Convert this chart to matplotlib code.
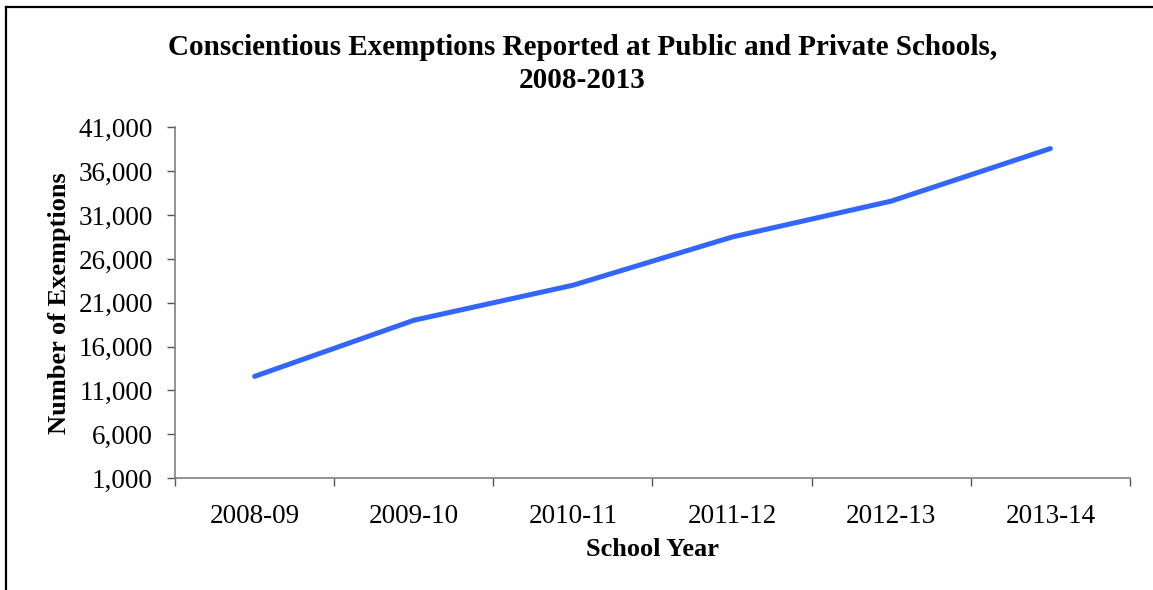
import matplotlib
matplotlib.use("Agg")
import matplotlib.pyplot as plt
from matplotlib.lines import Line2D
from matplotlib.ticker import FuncFormatter

school_years = ["2008-09", "2009-10", "2010-11", "2011-12", "2012-13", "2013-14"]
exemptions = [12600, 19000, 23000, 28500, 32600, 38600]
y_ticks = [1000, 6000, 11000, 16000, 21000, 26000, 31000, 36000, 41000]

plt.rcParams["font.family"] = ["Liberation Serif", "DejaVu Serif"]

fig = plt.figure(figsize=(11.53, 5.90), dpi=100)
ax = fig.add_axes([0.1518, 0.1898, 0.8282, 0.5941])

x = list(range(len(school_years)))
ax.plot(x, exemptions, color="#3366FF", linewidth=3.6, solid_capstyle="round",
        solid_joinstyle="round")

ax.set_xlim(-0.5, len(school_years) - 0.5)
ax.set_ylim(y_ticks[0], y_ticks[-1])
ax.set_yticks(y_ticks)
ax.yaxis.set_major_formatter(FuncFormatter(lambda v, p: f"{int(v):,}"))

# category boundaries carry the x ticks, labels sit between them
ax.set_xticks([i - 0.5 for i in range(len(school_years) + 1)])
ax.set_xticklabels([])
ax.set_xticks(x, minor=True)
ax.set_xticklabels(school_years, minor=True)
ax.tick_params(axis="x", which="minor", length=0, labelsize=19.5, pad=19)
ax.tick_params(axis="x", which="major", length=6, width=1, color="#555555")
ax.tick_params(axis="y", length=6, width=1, color="#555555", labelsize=19.5, pad=10)

for side in ["top", "right"]:
    ax.spines[side].set_visible(False)
for side in ["left", "bottom"]:
    ax.spines[side].set_color("#808080")
    ax.spines[side].set_linewidth(1.2)

ax.set_xlabel("School Year", fontsize=19, fontweight="bold", labelpad=6)
ax.set_ylabel("Number of Exemptions", fontsize=19, fontweight="bold", labelpad=5)

fig.text(0.505, 0.892, "Conscientious Exemptions Reported at Public and Private Schools,\n2008-2013",
         ha="center", va="center", fontsize=21, fontweight="bold", linespacing=1.3)

# outer frame: top and left edges only
fig.add_artist(Line2D([6 / 1153, 1], [1 - 7 / 590, 1 - 7 / 590], color="black",
                      linewidth=1.6, transform=fig.transFigure))
fig.add_artist(Line2D([6 / 1153, 6 / 1153], [0, 1 - 7 / 590], color="black",
                      linewidth=1.6, transform=fig.transFigure))

fig.savefig("out.png", dpi=100, facecolor="white")
